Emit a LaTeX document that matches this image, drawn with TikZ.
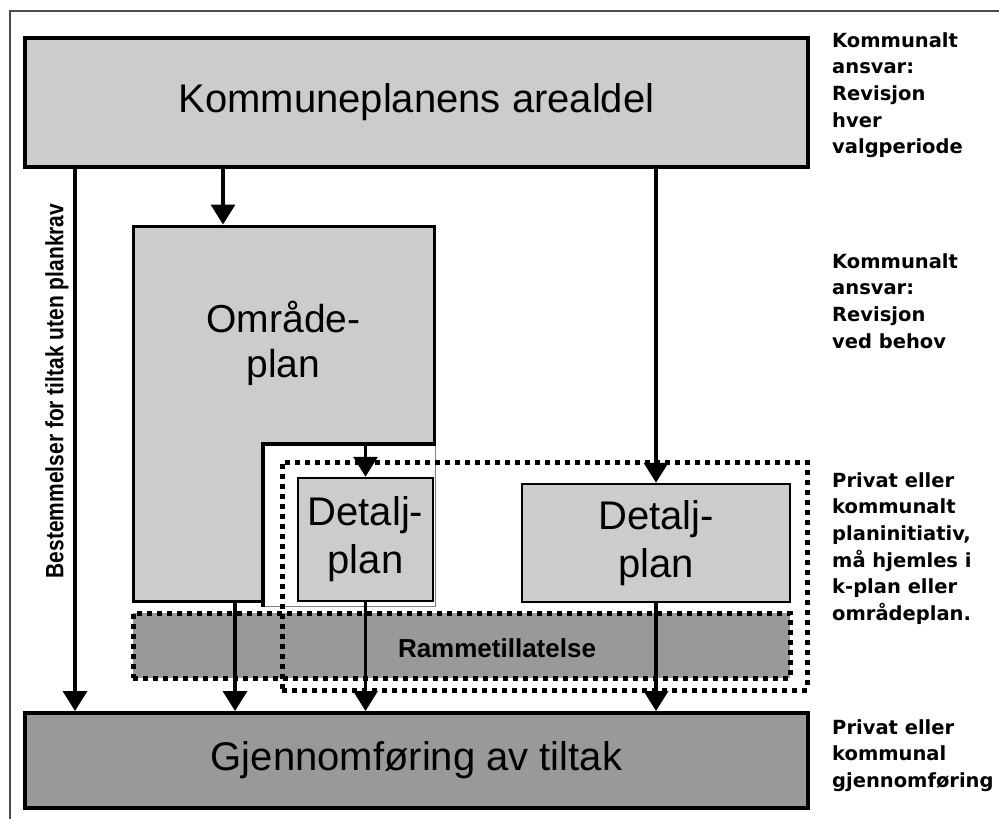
\documentclass[tikz,border=0pt]{standalone}
\usepackage{graphicx}
\usepackage{fontspec}
\setmainfont{Liberation Sans}
\newfontfamily\hoyrefont{DejaVu Sans}
\usetikzlibrary{arrows.meta,positioning}

\begin{document}
\begin{tikzpicture}[x=1pt,y=-1pt,>={Triangle[length=20pt,width=24pt]}]
  \tikzstyle{plan}=[rectangle,draw=black,fill=black!20,inner sep=0pt,align=center,font=\fontsize{40}{48}\selectfont]
  \tikzstyle{hovedplan}=[plan,line width=4pt]
  \tikzstyle{detalj}=[plan,line width=2.5pt]
  \tikzstyle{mork}=[hovedplan,fill=black!40]
  \tikzstyle{prikket}=[line width=5pt,dash pattern=on 5pt off 5pt]
  \tikzstyle{pil}=[->,line width=3.5pt]
  \tikzstyle{merknad}=[anchor=north west,inner sep=0pt,align=left,font=\hoyrefont\bfseries\fontsize{19.5}{26.7}\selectfont]

  \useasboundingbox (0,0) rectangle (999,819);
  \draw [black!70,line width=1.5pt] (10,819) -- (10,11) -- (999,11);

  \begin{scope}
    % Planer
    \node [hovedplan,minimum width=783pt,minimum height=129pt] (kpa) at (416.5,102.5) {Kommuneplanens arealdel};
    \node [plan,line width=3pt,minimum width=301pt,minimum height=375pt] (omr) at (283.5,413.5) {};
    \node [inner sep=0pt,align=center,font=\fontsize{39}{45}\selectfont] (omrtekst) at (283.5,343) {Område-\\plan};
    \node [rectangle,draw=black!50,fill=white,line width=1pt,minimum width=172pt,minimum height=162pt] (hvit) at (349,525) {};
    \draw [line width=4pt] (hvit.south west) |- (hvit.north east);
    \node [detalj,minimum width=135pt,minimum height=123pt] (dp1) at (365.5,539.5) {Detalj-\\plan};
    \node [detalj,minimum width=268pt,minimum height=118pt] (dp2) at (656,543) {Detalj-\\plan};
    \node [mork,minimum width=783pt,minimum height=95pt] (gjen) at (416.5,760.5) {Gjennomføring av tiltak};
    \node [rectangle,prikket,draw=black,fill=black!40,minimum width=657pt,minimum height=65pt] (ramme) at (461.5,645.5) {};
    \node [font=\bfseries\fontsize{26}{30}\selectfont] (rammetekst) at (497,648) {Rammetillatelse};
    \node [rectangle,prikket,draw=black,minimum width=525pt,minimum height=228pt] (privat) at (544.5,576) {};
  \end{scope}

  \coordinate (venstre) at (75,0);
  \coordinate (omrinn) at (223,0);
  \coordinate (omrut) at (235,0);

  \begin{scope}
    \path [pil] (kpa.south -| venstre) edge (gjen.north -| venstre);
    \path [pil] (kpa.south -| omrinn) edge (omr.north -| omrinn);
    \path [pil] (kpa.south -| dp2.north) edge (dp2.north);
    \path [pil] (hvit.north -| dp1.north) edge (dp1.north);
    \path [pil] (omr.south -| omrut) edge (gjen.north -| omrut);
    \path [pil] (dp1.south) edge (gjen.north -| dp1.south);
    \path [pil] (dp2.south) edge (gjen.north -| dp2.south);
  \end{scope}

  % Tekst langs venstre pil
  \node [rotate=90,inner sep=0pt,font=\bfseries\fontsize{25}{30}\selectfont] (bestem) at (57,391)
    {\scalebox{0.84}[1]{Bestemmelser for tiltak uten plankrav}};

  % Merknader til hoyre
  \node [merknad] (ansvar1) at (832,32) {Kommunalt\\ansvar:\\Revisjon\\hver\\valgperiode};
  \node [merknad] (ansvar2) at (832,253) {Kommunalt\\ansvar:\\Revisjon\\ved behov};
  \node [merknad] (initiativ) at (832,472) {Privat eller\\kommunalt\\planinitiativ,\\må hjemles i\\k-plan eller\\områdeplan.};
  \node [merknad] (gjennomf) at (832,719) {Privat eller\\kommunal\\gjennomføring};
\end{tikzpicture}
\end{document}
